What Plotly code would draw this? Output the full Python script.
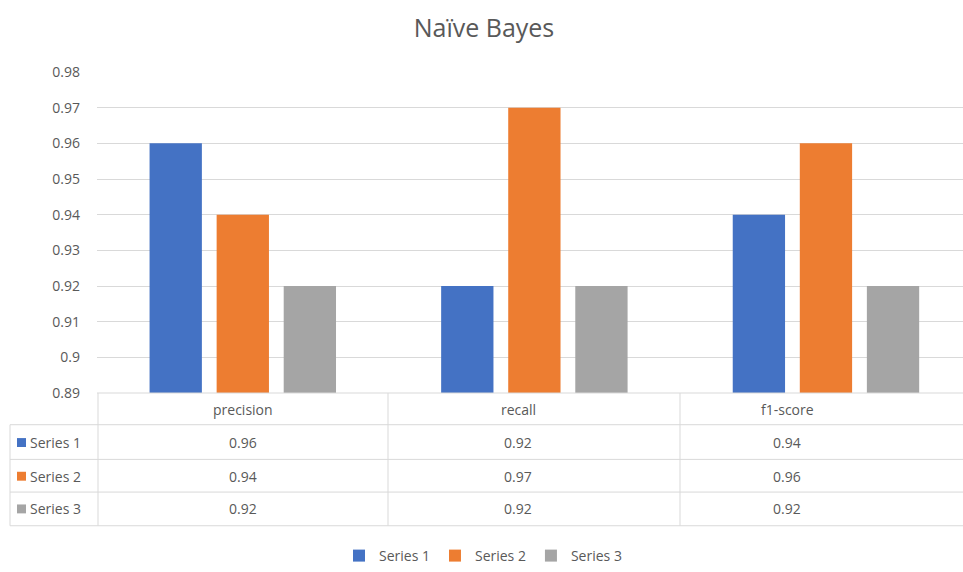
import plotly.graph_objects as go

# Naive Bayes evaluation metrics per series
categories = ["precision", "recall", "f1-score"]
series_names = ["Series 1", "Series 2", "Series 3"]
series_1 = [0.96, 0.92, 0.94]
series_2 = [0.94, 0.97, 0.96]
series_3 = [0.92, 0.92, 0.92]
series_values = [series_1, series_2, series_3]
colors = ["#4472C4", "#ED7D31", "#A5A5A5"]
y_ticks = [0.89, 0.9, 0.91, 0.92, 0.93, 0.94, 0.95, 0.96, 0.97, 0.98]
y_tick_text = ["0.89", "0.9", "0.91", "0.92", "0.93", "0.94", "0.95", "0.96", "0.97", "0.98"]

W, H = 963, 572
L, R, T, B = 97, 0, 72, 176
PW, PH = W - L - R, H - T - B
FONT = "'Open Sans', Lato, sans-serif"
TXT = "#595959"
GRID = "#D9D9D9"


def px(x):
    return (x - L) / PW


def py(y):
    return (H - B - y) / PH


fig = go.Figure()
for name, vals, col in zip(series_names, series_values, colors):
    fig.add_trace(go.Bar(x=categories, y=vals, name=name,
                         marker=dict(color=col, line=dict(width=0))))

shapes = []
annotations = []

# data table grid under the plot
row_lines = [428, 463, 496, 530]
for yy in row_lines:
    shapes.append(dict(type="line", xref="paper", yref="paper",
                       x0=px(10), x1=px(W + 10), y0=py(yy), y1=py(yy),
                       line=dict(color=GRID, width=1)))
for xx in [98, 388, 680]:
    shapes.append(dict(type="line", xref="paper", yref="paper",
                       x0=px(xx), x1=px(xx), y0=py(396), y1=py(530),
                       line=dict(color=GRID, width=1)))
shapes.append(dict(type="line", xref="paper", yref="paper",
                   x0=px(10), x1=px(10), y0=py(428), y1=py(530),
                   line=dict(color=GRID, width=1)))
shapes.append(dict(type="line", xref="paper", yref="paper",
                   x0=px(97), x1=px(W + 10), y0=py(396), y1=py(396),
                   line=dict(color=GRID, width=1)))

col_centers = [243, 518, 787]
header_y = 413
row_y = [446, 480, 513]

for cx, cat in zip(col_centers, categories):
    annotations.append(dict(xref="paper", yref="paper", x=px(cx), y=py(header_y),
                            text=cat, showarrow=False, xanchor="center", yanchor="middle",
                            font=dict(family=FONT, size=14, color=TXT)))

for ry, name, vals, col in zip(row_y, series_names, series_values, colors):
    shapes.append(dict(type="rect", xref="paper", yref="paper",
                       x0=px(17), x1=px(26), y0=py(ry - 4.5), y1=py(ry + 4.5),
                       fillcolor=col, line=dict(width=0)))
    annotations.append(dict(xref="paper", yref="paper", x=px(28), y=py(ry),
                            text=name, showarrow=False, xanchor="left", yanchor="middle",
                            font=dict(family=FONT, size=14, color=TXT)))
    for cx, v in zip(col_centers, vals):
        annotations.append(dict(xref="paper", yref="paper", x=px(cx), y=py(ry),
                                text=f"{v:.2f}", showarrow=False, xanchor="center",
                                yanchor="middle",
                                font=dict(family=FONT, size=14, color=TXT)))

fig.update_layout(
    width=W, height=H,
    margin=dict(l=L, r=R, t=T, b=B),
    paper_bgcolor="white", plot_bgcolor="white",
    title=dict(text="Naïve Bayes", x=484 / W, xref="container", xanchor="center",
               y=1 - 28 / H, yref="container", yanchor="middle",
               font=dict(family=FONT, size=25, color=TXT)),
    barmode="group", bargap=0.31, bargroupgap=0.22,
    xaxis=dict(range=[-0.5, 2.47], showticklabels=False, showgrid=False,
               zeroline=False, showline=False, ticks=""),
    yaxis=dict(range=[0.89, 0.98], tickvals=y_ticks, ticktext=y_tick_text,
               showgrid=True, gridcolor=GRID, gridwidth=1, zeroline=False,
               showline=False, ticks="", ticklabelstandoff=16,
               tickfont=dict(family=FONT, size=14, color=TXT)),
    showlegend=True,
    legend=dict(orientation="h", x=px(483), xanchor="center", xref="paper",
                y=py(561), yanchor="middle", yref="paper",
                font=dict(family=FONT, size=14, color=TXT),
                itemwidth=30, traceorder="normal", bgcolor="rgba(0,0,0,0)"),
    shapes=shapes, annotations=annotations,
)

fig.write_html("out.html")
